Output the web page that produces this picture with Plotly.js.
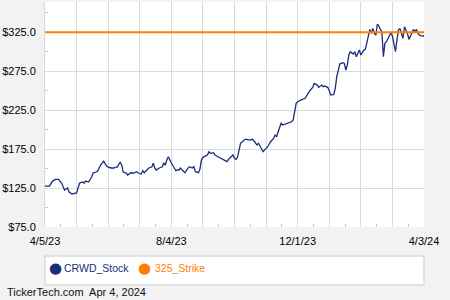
<!DOCTYPE html>
<html><head><meta charset="utf-8">
<script src="https://cdn.plot.ly/plotly-3.0.1.min.js"></script>
<style>html,body{margin:0;padding:0;background:#f2f2f2;}#chart{width:450px;height:300px;}</style>
</head><body><div id="chart"></div>
<script>
// trading-day index (0 = 4/5/23, 252 = 4/3/24) and closing price of CRWD
const days = [0,3,5,7,9,11,13,15,16,18,21,22,23,25,26,27,29,31,32,34,35,36,37,39,41,42,44,46,47,48,50,51,52,54,55,57,59,61,62,64,65,66,68,69,71,72,73,74,76,78,79,80,81,82,84,86,87,88,89,90,92,93,95,96,98,99,100,102,103,104,105,106,108,109,110,112,113,115,117,119,121,122,124,125,126,127,128,129,130,132,133,134,136,138,140,141,142,144,145,147,148,150,152,153,154,155,156,157,158,160,162,164,165,166,167,168,169,171,173,175,176,178,179,181,182,184,185,186,188,189,190,192,193,194,195,196,198,199,200,201,202,203,205,206,207,208,209,210,211,212,213,214,215,216,217,218,219,220,221,222,223,224,225,226,227,228,229,230,231,232,233,234,235,236,237,238,239,240,241,242,243,244,245,246,247,248,249,251,252];
const stock = [127.6,127.6,134,136.2,136.2,131.5,122.5,125,120,117.4,118.7,123.8,131.5,132.8,131.5,134,132.8,139.2,144.3,145.6,146.9,150.8,154.6,159.7,153.3,152,150.8,150.8,152,152,158.5,154.6,145.6,144.3,141.8,144.7,144.3,146,144.3,143,147.3,144.7,148.2,150.8,152,156.8,150.8,148.2,150.8,152.4,157.2,154.6,161,165.3,157.2,150.8,147.3,148.2,148.2,150.8,146,144.7,150.4,152.4,150.8,152.4,146,144.7,149.1,161,164.5,165.3,167.5,171.7,169.6,170.4,167.5,165.3,163.2,161,158.9,161.9,166.2,167.5,163.2,161.9,164.5,176,182.5,185.8,187.6,187.6,186.7,187.6,182.5,180.3,182.5,173.9,171.7,176,178.1,184.5,188.9,193.1,191,197.4,201.7,208.2,206,207.3,208.9,210.2,212.4,225.2,233.8,235.9,237.2,239,240.3,246.7,250,254.4,259.5,257.3,254.4,257.3,255.1,256,254.4,250,244.5,245.4,253.1,268,278.8,284.3,286,285.2,276.6,283,295.9,300.1,297.1,300.1,293.7,298,302.3,295.9,300.1,302.3,303.2,313,323.7,328.8,323.7,330.1,323.7,321.5,335.6,333.1,328.8,325.8,293.7,310.9,313,317.3,321.5,324.5,320.3,310.9,300.1,315.1,327.9,330.1,323.7,317.3,332.2,327.9,323.7,316,320.3,323.7,328.8,325.8,328.8,323.7,321.5,320.3,320.3];
const strikeDays = [0,252];
const strike = [325,325];
const seriesNames = ["CRWD_Stock","325_Strike"];
const gridDays = [0,21,42,63,84,105,126,147,168,189,210,231,252];
const xLabels = {0:"4/5/23",84:"8/4/23",168:"12/1/23",252:"4/3/24"};
const yTicks = [75,125,175,225,275,325];
const footer = "TickerTech.com  Apr 4, 2024";

const navy = "#1c2c7c", orange = "#ff8000";
const colors = [navy, orange];
const traces = [
  {x: days, y: stock, mode:"lines", line:{color:navy,width:1.3}, name:seriesNames[0], showlegend:false, hoverinfo:"skip"},
  {x: strikeDays, y: strike, mode:"lines", line:{color:orange,width:2}, name:seriesNames[1], showlegend:false, hoverinfo:"skip"}
];
// legend drawn as annotations inside a white box below the plot
const legendY = -0.18;
const legendPos = [[0.0264, 0.045], [0.263, 0.284]];
const legendAnn = [];
seriesNames.forEach((n,i)=>{
  legendAnn.push({text:"●", xref:"paper", yref:"paper", x:legendPos[i][0], xanchor:"center", y:legendY, yanchor:"middle",
                  showarrow:false, font:{size:15, color:colors[i], family:"DejaVu Sans"}});
  legendAnn.push({text:n, xref:"paper", yref:"paper", x:legendPos[i][1], xanchor:"left", y:legendY, yanchor:"middle",
                  showarrow:false, font:{size:10.5, color:colors[i]}});
});
const layout = {
  width:450, height:300,
  margin:{l:45, r:26, t:2, b:73},
  paper_bgcolor:"#f2f2f2", plot_bgcolor:"#ffffff",
  font:{family:"Liberation Sans, Arial, sans-serif", size:11, color:"#000"},
  xaxis:{range:[0,252], tickmode:"array", tickvals:gridDays, ticktext:gridDays.map(d=>xLabels[d]||""),
         showgrid:true, gridcolor:"#dadada", gridwidth:1, zeroline:false, ticks:"", ticklabelstandoff:6,
         showline:false, fixedrange:true,
         minor:{tickvals:gridDays.slice(0,-1).map(d=>d+10.5), ticks:"inside", ticklen:3, tickcolor:"#cccccc", showgrid:false}},
  yaxis:{range:[75,364], tickmode:"array", tickvals:yTicks, ticktext:yTicks.map(v=>"$"+v.toFixed(1)),
         showgrid:true, gridcolor:"#dadada", gridwidth:1, zeroline:false, ticks:"", ticklabelstandoff:6,
         showline:true, linecolor:"#dadada", linewidth:1,
         minor:{tickvals:[100,150,200,250,300,350], ticks:"inside", ticklen:3, tickcolor:"#cccccc", showgrid:false}},
  showlegend:false,
  shapes:[{type:"rect", xref:"paper", yref:"paper", x0:0, x1:1, y0:-0.258, y1:-0.129,
           fillcolor:"#ffffff", line:{color:"#dadada", width:1.5}, layer:"below"}],
  annotations:legendAnn.concat([{text:footer, xref:"paper", yref:"paper", x:-0.105, xanchor:"left", y:-0.289, yanchor:"middle",
                showarrow:false, font:{size:11, color:"#111"}}])
};
Plotly.newPlot("chart", traces, layout, {displayModeBar:false, staticPlot:true});
</script></body></html>
